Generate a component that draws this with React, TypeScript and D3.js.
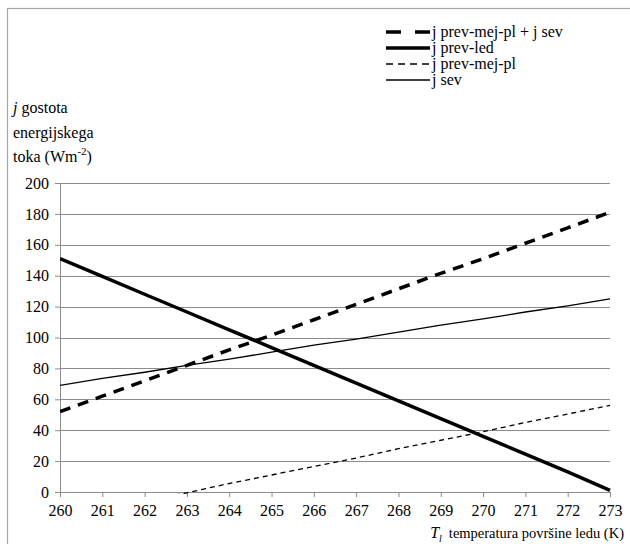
import * as d3 from "d3";
import { useEffect, useRef } from "react";

// temperatura površine ledu (K)
const temps = [260, 261, 262, 263, 264, 265, 266, 267, 268, 269, 270, 271, 272, 273];

// gostota energijskega toka (W m-2)
const jPrevMejPlSev = [52, 62, 72, 82, 92, 101.5, 111.5, 121.5, 131.5, 141.5, 151, 161, 171, 181];
const jPrevLed = [151, 139.5, 128, 116.5, 105, 93.5, 82, 70.5, 59, 47.5, 36, 24.5, 13, 1];
const jPrevMejPl = [-17, -11.5, -6, -0.5, 5.5, 11, 16.5, 22, 28, 33.5, 39, 45, 50.5, 56];
const jSev = [69, 73.5, 77.5, 82, 86, 90.5, 95, 99, 103.5, 108, 112, 116.5, 120.5, 125];

const yTicks = [0, 20, 40, 60, 80, 100, 120, 140, 160, 180, 200];

type Series = {
    name: string;
    values: number[];
    width: number;
    dash: string | null;
    legendDash: string | null;
};

const series: Series[] = [
    { name: "j prev-mej-pl + j sev", values: jPrevMejPlSev, width: 3.5, dash: "11,8", legendDash: "15,14" },
    { name: "j prev-led", values: jPrevLed, width: 3.5, dash: null, legendDash: null },
    { name: "j prev-mej-pl", values: jPrevMejPl, width: 1.3, dash: "5,4", legendDash: "7,5" },
    { name: "j sev", values: jSev, width: 1.3, dash: null, legendDash: null },
];

const FONT = '"Liberation Serif", "DejaVu Serif", serif';

export default function App() {
    const svgRef = useRef<SVGSVGElement | null>(null);

    useEffect(() => {
        if (!svgRef.current) return;
        const svg = d3.select(svgRef.current);
        svg.selectAll("*").remove();

        const totalW = 630;
        const totalH = 544;
        const margin = { top: 183, right: 20, bottom: 52, left: 60 };
        const W = totalW - margin.left - margin.right;
        const H = totalH - margin.top - margin.bottom;

        svg.attr("width", totalW).attr("height", totalH);

        // outer chart frame (only top and left are visible)
        svg.append("rect")
            .attr("x", 7.5)
            .attr("y", 8.5)
            .attr("width", totalW + 10)
            .attr("height", totalH + 10)
            .attr("fill", "white")
            .attr("stroke", "#a6a6a6")
            .attr("stroke-width", 1.2);

        const x = d3.scaleLinear().domain([260, 273]).range([0, W]);
        const y = d3.scaleLinear().domain([0, 200]).range([H, 0]);

        const g = svg
            .append("g")
            .attr("transform", `translate(${margin.left},${margin.top})`);

        // gridlines
        g.append("g")
            .selectAll("line")
            .data(yTicks.filter((t) => t > 0))
            .join("line")
            .attr("x1", 0)
            .attr("x2", W)
            .attr("y1", (d) => Math.round(y(d)) + 0.5)
            .attr("y2", (d) => Math.round(y(d)) + 0.5)
            .attr("stroke", "#8c8c8c")
            .attr("stroke-width", 1);

        // axes
        const yAxis = g.append("g").call(
            d3.axisLeft(y).tickValues(yTicks).tickSize(5).tickPadding(6)
        );
        const xAxis = g
            .append("g")
            .attr("transform", `translate(0,${H})`)
            .call(d3.axisBottom(x).tickValues(temps).tickSize(5).tickPadding(8).tickFormat(d3.format("d")));

        [yAxis, xAxis].forEach((a) => {
            a.attr("font-family", FONT).attr("font-size", 16);
            a.select(".domain").attr("stroke", "#8c8c8c");
            a.selectAll(".tick line").attr("stroke", "#8c8c8c");
            a.selectAll(".tick text").attr("fill", "#000");
        });

        // lines, clipped to the plot area
        svg.append("defs")
            .append("clipPath")
            .attr("id", "plot-clip")
            .append("rect")
            .attr("x", 0)
            .attr("y", -5)
            .attr("width", W + 5)
            .attr("height", H + 7);

        const line = d3
            .line<number>()
            .x((d, i) => x(temps[i]))
            .y((d) => y(d));

        const lines = g.append("g").attr("clip-path", "url(#plot-clip)");
        series.forEach((s) => {
            lines.append("path")
                .datum(s.values)
                .attr("fill", "none")
                .attr("stroke", "#000")
                .attr("stroke-width", s.width)
                .attr("stroke-dasharray", s.dash)
                .attr("d", line);
        });

        // y axis title
        const yTitle = svg.append("text")
            .attr("font-family", FONT)
            .attr("font-size", 16)
            .attr("fill", "#000");
        const l1 = yTitle.append("tspan").attr("x", 13).attr("y", 113);
        l1.append("tspan").attr("font-style", "italic").text("j");
        l1.append("tspan").text(" gostota");
        yTitle.append("tspan").attr("x", 13).attr("y", 138).text("energijskega");
        const l3 = yTitle.append("tspan").attr("x", 13).attr("y", 162);
        l3.append("tspan").text("toka (Wm");
        l3.append("tspan").attr("font-size", 11).attr("dy", -7).text("-2");
        l3.append("tspan").attr("dy", 7).text(")");

        // x axis title
        const xTitle = svg.append("text")
            .attr("font-family", FONT)
            .attr("font-size", 14.5)
            .attr("fill", "#000")
            .attr("text-anchor", "end")
            .attr("x", 624)
            .attr("y", 538);
        xTitle.append("tspan").attr("font-style", "italic").attr("font-size", 16).text("T");
        xTitle.append("tspan").attr("font-style", "italic").attr("font-size", 10).attr("dy", 4).text("l");
        xTitle.append("tspan").attr("dy", -4).attr("dx", 7).text("temperatura površine ledu (K)");

        // legend
        const legend = svg.append("g").attr("transform", "translate(386,32)");
        series.forEach((s, i) => {
            const row = legend.append("g").attr("transform", `translate(0,${i * 16})`);
            row.append("line")
                .attr("x1", 0)
                .attr("x2", 44)
                .attr("y1", 0)
                .attr("y2", 0)
                .attr("stroke", "#000")
                .attr("stroke-width", s.width)
                .attr("stroke-dasharray", s.legendDash);
            row.append("text")
                .attr("x", 46)
                .attr("y", 5)
                .attr("font-family", FONT)
                .attr("font-size", 16)
                .attr("fill", "#000")
                .text(s.name);
        });
    }, []);

    return (
        <svg
            ref={svgRef}
            style={{ position: "absolute", left: 0, top: 0, display: "block" }}
        />
    );
}
